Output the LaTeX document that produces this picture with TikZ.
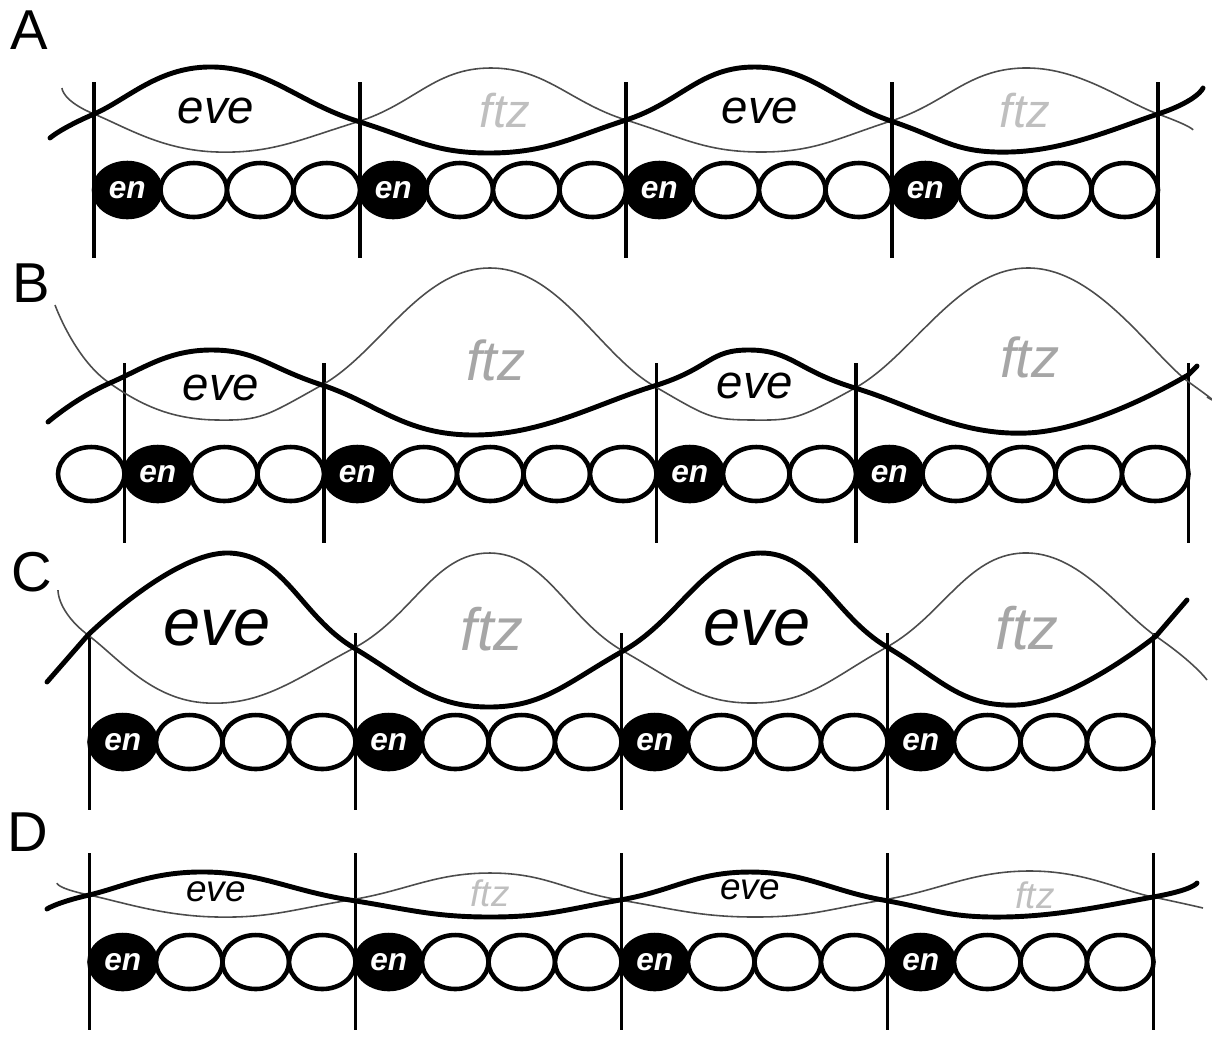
\documentclass[tikz,border=0pt]{standalone}
\usepackage{fontspec}
\setmainfont{Liberation Sans}
\usetikzlibrary{shapes.geometric}

\begin{document}
\begin{tikzpicture}[
    x=0.02cm, y=-0.02cm,
    cell/.style={ellipse, draw, line width=2.6pt, fill=white, minimum width=1.33cm, minimum height=1.08cm, inner sep=0pt, outer sep=0pt},
    encell/.style={cell, fill=black, text=white, font=\fontsize{18}{18}\selectfont\bfseries\itshape},
    wall/.style={line width=1.9pt},
    eveline/.style={line width=2.8pt, line cap=round, smooth, tension=0.75},
    ftzline/.style={line width=0.9pt, black!70, smooth, tension=0.75},
    evelabel/.style={font=\fontsize{27}{27}\selectfont\itshape},
    ftzlabel/.style={font=\fontsize{27}{27}\selectfont\itshape, text=black!35},
    panel/.style={font=\fontsize{32}{32}\selectfont}
  ]
  \useasboundingbox (0,0) rectangle (1212,1039);

  % A: wild type
  \node[panel] (lA) at (29,30) {A};
  \foreach \i in {1,5,9,13} \node[encell] (a\i) at ({60.75+66.5*\i},190) {en};
  \foreach \i in {2,3,4,6,7,8,10,11,12,14,15,16} \node[cell] (a\i) at ({60.75+66.5*\i},190) {};
  \foreach \n in {a1.west,a5.west,a9.west,a13.west,a16.east} \draw[wall] (\n) ++(0,-108) -- ++(0,176);
  \draw[ftzline] plot coordinates {(62,88) (94,114) (217,152) (357,122) (490,68) (626,120) (760,152) (891,121) (1023,68) (1158,114) (1193,130)};
  \draw[eveline] plot coordinates {(50,138) (94,114) (214,67) (357,121) (490,153) (626,120) (755,67) (891,121) (1010,152) (1158,114) (1203,88)};
  \node[evelabel] (aeve1) at (216,111) {eve};
  \node[ftzlabel, text=black!25] (aftz1) at (505,111) {ftz};
  \node[evelabel] (aeve2) at (760,111) {eve};
  \node[ftzlabel, text=black!25] (aftz2) at (1025,111) {ftz};

  % B
  \node[panel] (lB) at (31,283) {B};
  \foreach \i in {2,5,10,13} \node[encell] (b\i) at ({24.75+66.5*\i},474) {en};
  \foreach \i in {1,3,4,6,7,8,9,11,12,14,15,16,17} \node[cell] (b\i) at ({24.75+66.5*\i},474) {};
  \foreach \n in {b2.west,b5.west,b10.west,b13.west,b17.east} \draw[wall] (\n) ++(0,-111) -- ++(0,180);
  \draw[ftzline] plot coordinates {(55,305) (108,382) (217,420) (322,385) (490,268) (654,386) (752,420) (855,388) (1027,268) (1190,383) (1207,397)};
  \draw[eveline] plot coordinates {(48,422) (110,383) (213,350) (322,385) (473,435) (654,386) (750,350) (855,388) (1027,433) (1188,375)} -- (1197,366);
  \node[evelabel] (beve1) at (221,388) {eve};
  \node[ftzlabel, font=\fontsize{32}{32}\selectfont\itshape] (bftz1) at (496,360) {ftz};
  \node[evelabel] (beve2) at (755,386) {eve};
  \node[ftzlabel, font=\fontsize{32}{32}\selectfont\itshape] (bftz2) at (1030,357) {ftz};

  % C
  \node[panel] (lC) at (32,572) {C};
  \foreach \i in {1,5,9,13} \node[encell] (c\i) at ({56.25+66.5*\i},742) {en};
  \foreach \i in {2,3,4,6,7,8,10,11,12,14,15,16} \node[cell] (c\i) at ({56.25+66.5*\i},742) {};
  \foreach \n in {c1.west,c5.west,c9.west,c13.west,c16.east} \draw[wall] (\n) ++(0,-109) -- ++(0,177);
  \draw[ftzline] plot coordinates {(58,590) (88,635) (207,703) (354,648) (490,553) (623,651) (755,703) (887,647) (1023,553) (1157,637) (1207,680)};
  \draw[eveline] (47,682) -- plot coordinates {(88,635) (230,553) (354,648) (487,707) (623,651) (760,553) (887,647) (1017,705) (1156,636)} -- (1187,600);
  \node[evelabel, font=\fontsize{38}{38}\selectfont\itshape] (ceve1) at (217,628) {eve};
  \node[ftzlabel, font=\fontsize{34}{34}\selectfont\itshape] (cftz1) at (492,629) {ftz};
  \node[evelabel, font=\fontsize{38}{38}\selectfont\itshape] (ceve2) at (757,628) {eve};
  \node[ftzlabel, font=\fontsize{34}{34}\selectfont\itshape] (cftz2) at (1027,628) {ftz};

  % D
  \node[panel] (lD) at (28,832) {D};
  \foreach \i in {1,5,9,13} \node[encell] (d\i) at ({56.25+66.5*\i},962) {en};
  \foreach \i in {2,3,4,6,7,8,10,11,12,14,15,16} \node[cell] (d\i) at ({56.25+66.5*\i},962) {};
  \foreach \n in {d1.west,d5.west,d9.west,d13.west,d16.east} \draw[wall] (\n) ++(0,-109) -- ++(0,177);
  \draw[ftzline] plot coordinates {(57,883) (89,895) (217,917) (350,900) (490,873) (620,900) (755,917) (883,900) (1027,871) (1153,897) (1203,908)};
  \draw[eveline] plot coordinates {(47,909) (89,895) (207,872) (350,900) (490,917) (620,900) (750,872) (883,900) (1003,917) (1153,897) (1197,883)};
  \node[evelabel, font=\fontsize{21}{21}\selectfont\itshape] (deve1) at (216,892) {eve};
  \node[ftzlabel, text=black!25, font=\fontsize{21}{21}\selectfont\itshape] (dftz1) at (490,893) {ftz};
  \node[evelabel, font=\fontsize{21}{21}\selectfont\itshape] (deve2) at (750,890) {eve};
  \node[ftzlabel, text=black!25, font=\fontsize{21}{21}\selectfont\itshape] (dftz2) at (1035,895) {ftz};
\end{tikzpicture}
\end{document}
